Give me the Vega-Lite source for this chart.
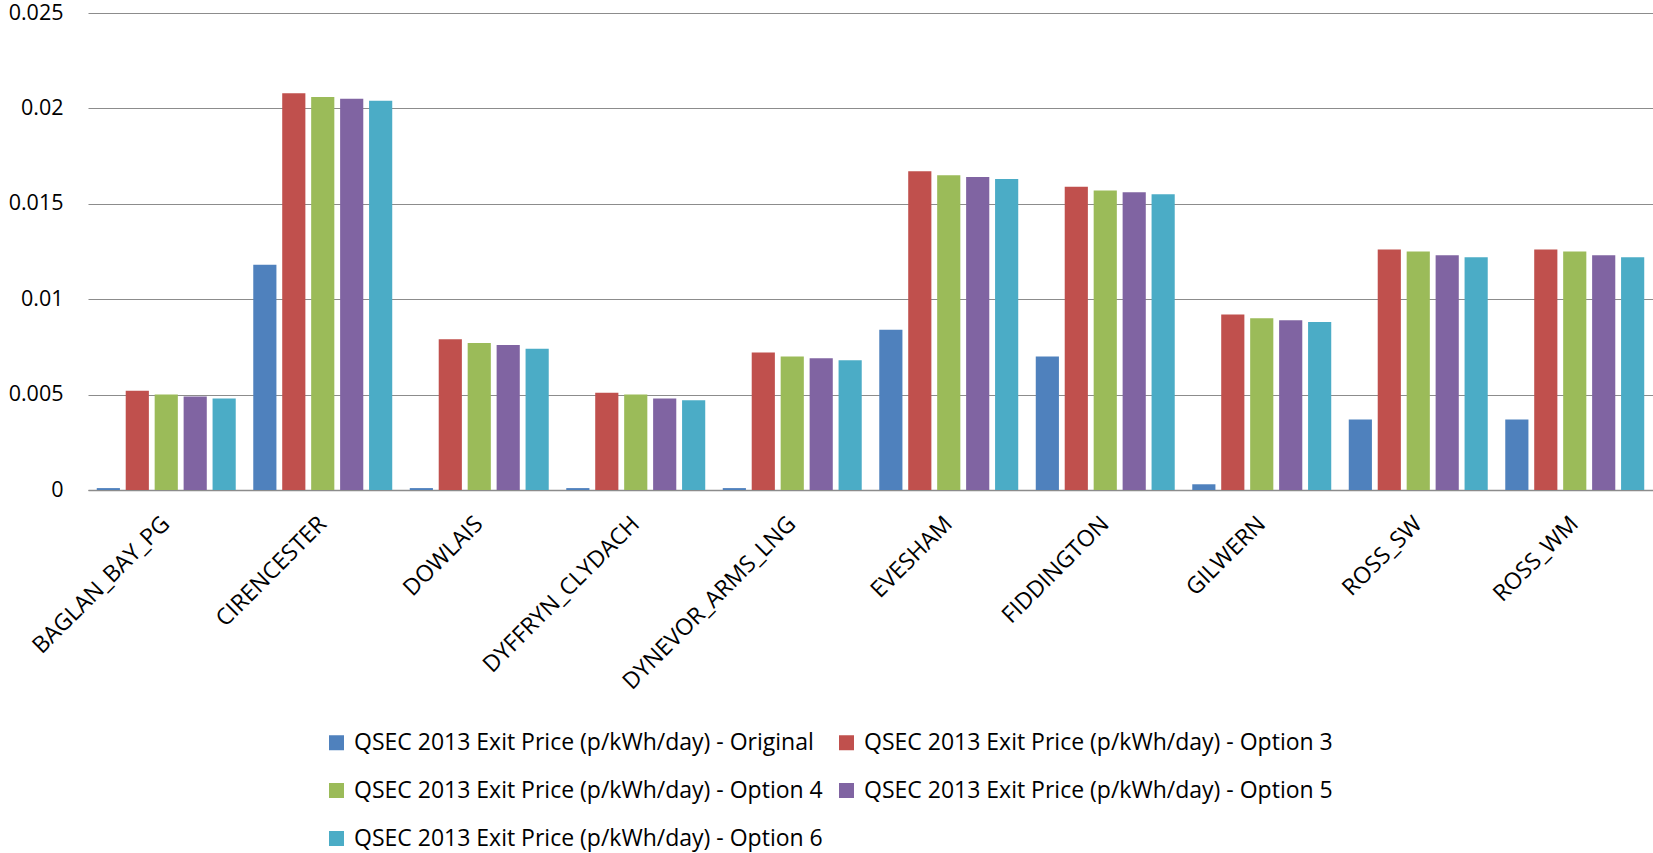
{
  "$schema": "https://vega.github.io/schema/vega-lite/v6.json",
  "width": 1565,
  "height": 477,
  "autosize": {"type": "none"},
  "padding": {"left": 88, "top": 13, "right": 0, "bottom": 363},
  "background": "white",
  "config": {
    "view": {"stroke": null},
    "font": "Open Sans",
    "axis": {"labelFont": "Open Sans", "labelColor": "#000000"},
    "legend": {"labelFont": "Open Sans", "labelColor": "#000000"}
  },
  "data": {
    "values": [
      {"site": "BAGLAN_BAY_PG", "series": "QSEC 2013 Exit Price (p/kWh/day) - Original", "value": 0.0001},
      {"site": "BAGLAN_BAY_PG", "series": "QSEC 2013 Exit Price (p/kWh/day) - Option 3", "value": 0.0052},
      {"site": "BAGLAN_BAY_PG", "series": "QSEC 2013 Exit Price (p/kWh/day) - Option 4", "value": 0.0050},
      {"site": "BAGLAN_BAY_PG", "series": "QSEC 2013 Exit Price (p/kWh/day) - Option 5", "value": 0.0049},
      {"site": "BAGLAN_BAY_PG", "series": "QSEC 2013 Exit Price (p/kWh/day) - Option 6", "value": 0.0048},
      {"site": "CIRENCESTER", "series": "QSEC 2013 Exit Price (p/kWh/day) - Original", "value": 0.0118},
      {"site": "CIRENCESTER", "series": "QSEC 2013 Exit Price (p/kWh/day) - Option 3", "value": 0.0208},
      {"site": "CIRENCESTER", "series": "QSEC 2013 Exit Price (p/kWh/day) - Option 4", "value": 0.0206},
      {"site": "CIRENCESTER", "series": "QSEC 2013 Exit Price (p/kWh/day) - Option 5", "value": 0.0205},
      {"site": "CIRENCESTER", "series": "QSEC 2013 Exit Price (p/kWh/day) - Option 6", "value": 0.0204},
      {"site": "DOWLAIS", "series": "QSEC 2013 Exit Price (p/kWh/day) - Original", "value": 0.0001},
      {"site": "DOWLAIS", "series": "QSEC 2013 Exit Price (p/kWh/day) - Option 3", "value": 0.0079},
      {"site": "DOWLAIS", "series": "QSEC 2013 Exit Price (p/kWh/day) - Option 4", "value": 0.0077},
      {"site": "DOWLAIS", "series": "QSEC 2013 Exit Price (p/kWh/day) - Option 5", "value": 0.0076},
      {"site": "DOWLAIS", "series": "QSEC 2013 Exit Price (p/kWh/day) - Option 6", "value": 0.0074},
      {"site": "DYFFRYN_CLYDACH", "series": "QSEC 2013 Exit Price (p/kWh/day) - Original", "value": 0.0001},
      {"site": "DYFFRYN_CLYDACH", "series": "QSEC 2013 Exit Price (p/kWh/day) - Option 3", "value": 0.0051},
      {"site": "DYFFRYN_CLYDACH", "series": "QSEC 2013 Exit Price (p/kWh/day) - Option 4", "value": 0.0050},
      {"site": "DYFFRYN_CLYDACH", "series": "QSEC 2013 Exit Price (p/kWh/day) - Option 5", "value": 0.0048},
      {"site": "DYFFRYN_CLYDACH", "series": "QSEC 2013 Exit Price (p/kWh/day) - Option 6", "value": 0.0047},
      {"site": "DYNEVOR_ARMS_LNG", "series": "QSEC 2013 Exit Price (p/kWh/day) - Original", "value": 0.0001},
      {"site": "DYNEVOR_ARMS_LNG", "series": "QSEC 2013 Exit Price (p/kWh/day) - Option 3", "value": 0.0072},
      {"site": "DYNEVOR_ARMS_LNG", "series": "QSEC 2013 Exit Price (p/kWh/day) - Option 4", "value": 0.0070},
      {"site": "DYNEVOR_ARMS_LNG", "series": "QSEC 2013 Exit Price (p/kWh/day) - Option 5", "value": 0.0069},
      {"site": "DYNEVOR_ARMS_LNG", "series": "QSEC 2013 Exit Price (p/kWh/day) - Option 6", "value": 0.0068},
      {"site": "EVESHAM", "series": "QSEC 2013 Exit Price (p/kWh/day) - Original", "value": 0.0084},
      {"site": "EVESHAM", "series": "QSEC 2013 Exit Price (p/kWh/day) - Option 3", "value": 0.0167},
      {"site": "EVESHAM", "series": "QSEC 2013 Exit Price (p/kWh/day) - Option 4", "value": 0.0165},
      {"site": "EVESHAM", "series": "QSEC 2013 Exit Price (p/kWh/day) - Option 5", "value": 0.0164},
      {"site": "EVESHAM", "series": "QSEC 2013 Exit Price (p/kWh/day) - Option 6", "value": 0.0163},
      {"site": "FIDDINGTON", "series": "QSEC 2013 Exit Price (p/kWh/day) - Original", "value": 0.0070},
      {"site": "FIDDINGTON", "series": "QSEC 2013 Exit Price (p/kWh/day) - Option 3", "value": 0.0159},
      {"site": "FIDDINGTON", "series": "QSEC 2013 Exit Price (p/kWh/day) - Option 4", "value": 0.0157},
      {"site": "FIDDINGTON", "series": "QSEC 2013 Exit Price (p/kWh/day) - Option 5", "value": 0.0156},
      {"site": "FIDDINGTON", "series": "QSEC 2013 Exit Price (p/kWh/day) - Option 6", "value": 0.0155},
      {"site": "GILWERN", "series": "QSEC 2013 Exit Price (p/kWh/day) - Original", "value": 0.0003},
      {"site": "GILWERN", "series": "QSEC 2013 Exit Price (p/kWh/day) - Option 3", "value": 0.0092},
      {"site": "GILWERN", "series": "QSEC 2013 Exit Price (p/kWh/day) - Option 4", "value": 0.0090},
      {"site": "GILWERN", "series": "QSEC 2013 Exit Price (p/kWh/day) - Option 5", "value": 0.0089},
      {"site": "GILWERN", "series": "QSEC 2013 Exit Price (p/kWh/day) - Option 6", "value": 0.0088},
      {"site": "ROSS_SW", "series": "QSEC 2013 Exit Price (p/kWh/day) - Original", "value": 0.0037},
      {"site": "ROSS_SW", "series": "QSEC 2013 Exit Price (p/kWh/day) - Option 3", "value": 0.0126},
      {"site": "ROSS_SW", "series": "QSEC 2013 Exit Price (p/kWh/day) - Option 4", "value": 0.0125},
      {"site": "ROSS_SW", "series": "QSEC 2013 Exit Price (p/kWh/day) - Option 5", "value": 0.0123},
      {"site": "ROSS_SW", "series": "QSEC 2013 Exit Price (p/kWh/day) - Option 6", "value": 0.0122},
      {"site": "ROSS_WM", "series": "QSEC 2013 Exit Price (p/kWh/day) - Original", "value": 0.0037},
      {"site": "ROSS_WM", "series": "QSEC 2013 Exit Price (p/kWh/day) - Option 3", "value": 0.0126},
      {"site": "ROSS_WM", "series": "QSEC 2013 Exit Price (p/kWh/day) - Option 4", "value": 0.0125},
      {"site": "ROSS_WM", "series": "QSEC 2013 Exit Price (p/kWh/day) - Option 5", "value": 0.0123},
      {"site": "ROSS_WM", "series": "QSEC 2013 Exit Price (p/kWh/day) - Option 6", "value": 0.0122}
    ]
  },
  "mark": {"type": "bar"},
  "encoding": {
    "x": {
      "field": "site",
      "type": "nominal",
      "sort": null,
      "scale": {"paddingInner": 0.112, "paddingOuter": 0.056},
      "axis": {
        "title": null,
        "labelAngle": -45,
        "labelAlign": "right",
        "labelBaseline": "middle",
        "labelFontSize": 23,
        "labelPadding": 30,
        "labelLimit": 1000,
        "labelOverlap": false,
        "ticks": false,
        "domainColor": "#8c8c8c",
        "domainWidth": 1.5,
        "grid": false
      }
    },
    "xOffset": {
      "field": "series",
      "type": "nominal",
      "sort": null,
      "scale": {"paddingInner": 0.2, "paddingOuter": 0}
    },
    "y": {
      "field": "value",
      "type": "quantitative",
      "scale": {"domain": [0, 0.025], "nice": false},
      "axis": {
        "title": null,
        "values": [0, 0.005, 0.01, 0.015, 0.02, 0.025],
        "labelExpr": "'' + datum.value",
        "labelFontSize": 21.5,
        "labelPadding": 25,
        "ticks": false,
        "domain": false,
        "grid": true,
        "gridColor": "#8c8c8c",
        "gridWidth": 1.2
      }
    },
    "color": {
      "field": "series",
      "type": "nominal",
      "scale": {
        "domain": [
          "QSEC 2013 Exit Price (p/kWh/day) - Original",
          "QSEC 2013 Exit Price (p/kWh/day) - Option 3",
          "QSEC 2013 Exit Price (p/kWh/day) - Option 4",
          "QSEC 2013 Exit Price (p/kWh/day) - Option 5",
          "QSEC 2013 Exit Price (p/kWh/day) - Option 6"
        ],
        "range": ["#4F81BD", "#C0504D", "#9BBB59", "#8064A2", "#4BACC6"]
      },
      "legend": {
        "title": null,
        "orient": "none",
        "legendX": 237,
        "legendY": 718,
        "columns": 2,
        "direction": "horizontal",
        "symbolType": "square",
        "symbolSize": 225,
        "symbolStrokeWidth": 0,
        "labelFontSize": 23,
        "labelOffset": 6,
        "rowPadding": 24,
        "columnPadding": 12,
        "padding": 0,
        "labelLimit": 1000
      }
    }
  }
}
